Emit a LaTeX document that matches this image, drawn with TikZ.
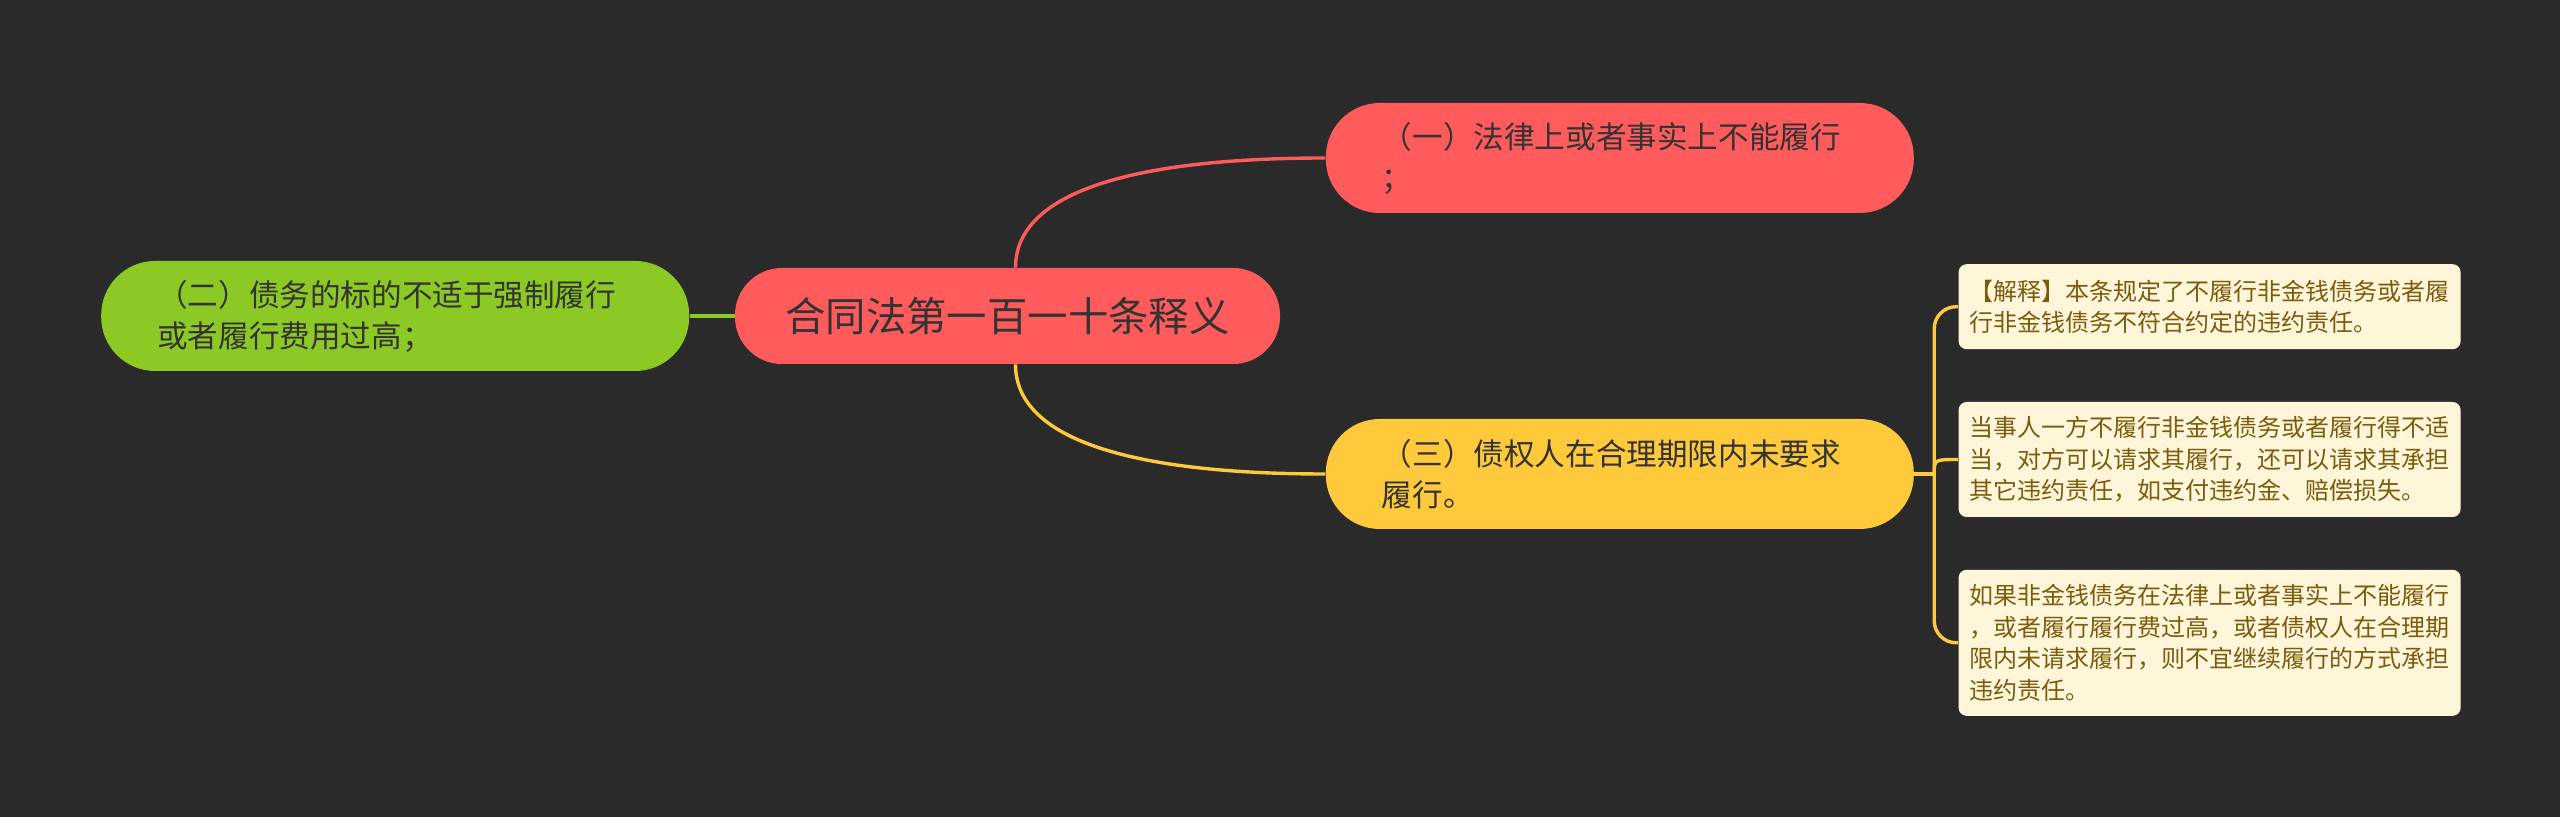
\documentclass[tikz,border=0pt]{standalone}
\usepackage{fontspec}
\usepackage{xcolor}
\usepackage{tikz}
\usetikzlibrary{positioning, calc}
\newfontfamily\cjk{Noto Sans CJK SC}
\definecolor{fundo}{HTML}{2A2A2A}
\definecolor{temared}{HTML}{FF5A5C}
\definecolor{ramogreen}{HTML}{8CC924}
\definecolor{ramoyellow}{HTML}{FFC93C}
\definecolor{notacream}{HTML}{FFF6DA}
\definecolor{notabrown}{HTML}{7B5C0E}
\definecolor{textdark}{HTML}{333333}

\begin{document}
\begin{tikzpicture}[
            tema/.style={fill=temared, rounded corners=23.5pt, minimum width=272.5pt, minimum height=48pt, inner sep=0pt, text=textdark, font=\cjk\fontsize{20.2pt}{24pt}\selectfont},
            ramo/.style={rounded corners=27pt, minimum height=55pt, text width=238pt, inner xsep=28pt, inner ysep=0pt, align=left, text=textdark, font=\cjk\fontsize{15.3pt}{20.5pt}\selectfont},
            nota/.style={fill=notacream, rounded corners=4pt, text width=240pt, inner xsep=5.5pt, inner ysep=0pt, align=left, text=notabrown, font=\cjk\fontsize{12pt}{15.75pt}\selectfont},
            linha/.style={line width=1.7pt}
        ]
            % 背景
            \fill[fundo] (0,0) rectangle (1280pt,-408.5pt);

            % 中心主题
            \node[tema] (centro) at (503.75pt,-158pt) {合同法第一百一十条释义};

            % 三个分支
            \node[ramo, fill=temared, right=22.5pt of centro, yshift=79pt] (r1) {（一）法律上或者事实上不能履行\\；};
            \node[ramo, fill=ramogreen, left=22.5pt of centro] (r2) {（二）债务的标的不适于强制履行\\或者履行费用过高；};
            \node[ramo, fill=ramoyellow, right=22.5pt of centro, yshift=-79pt] (r3) {（三）债权人在合理期限内未要求\\履行。};

            % 第三分支的说明
            \node[nota, minimum height=57.5pt, right=22pt of r3, yshift=7.25pt] (n2) {当事人一方不履行非金钱债务或者履行得不适\\当，对方可以请求其履行，还可以请求其承担\\其它违约责任，如支付违约金、赔偿损失。};
            \node[nota, minimum height=42.5pt, above=26pt of n2] (n1) {【解释】本条规定了不履行非金钱债务或者履\\行非金钱债务不符合约定的违约责任。};
            \node[nota, minimum height=73pt, below=26pt of n2] (n3) {如果非金钱债务在法律上或者事实上不能履行\\，或者履行履行费过高，或者债权人在合理期\\限内未请求履行，则不宜继续履行的方式承担\\违约责任。};
            \coordinate[right=10pt of r3] (garfo);

            % 连线
            \draw[linha, temared] ([xshift=4pt]centro.north) .. controls +(0,39pt) and +(-92.5pt,0) .. (r1.west);
            \draw[linha, ramoyellow] ([xshift=4pt]centro.south) .. controls +(0,-39pt) and +(-92.5pt,0) .. (r3.west);
            \draw[linha, ramogreen] (centro.west) -- (r2.east);

            % 括号
            \draw[linha, ramoyellow] (r3.east) -- (garfo);
            \draw[linha, ramoyellow, rounded corners=11pt] (garfo) |- (n1.west);
            \draw[linha, ramoyellow, rounded corners=11pt] (garfo) |- (n3.west);
            \draw[linha, ramoyellow] (garfo) .. controls (garfo |- n2.west) .. (n2.west);
        \end{tikzpicture}
\end{document}
